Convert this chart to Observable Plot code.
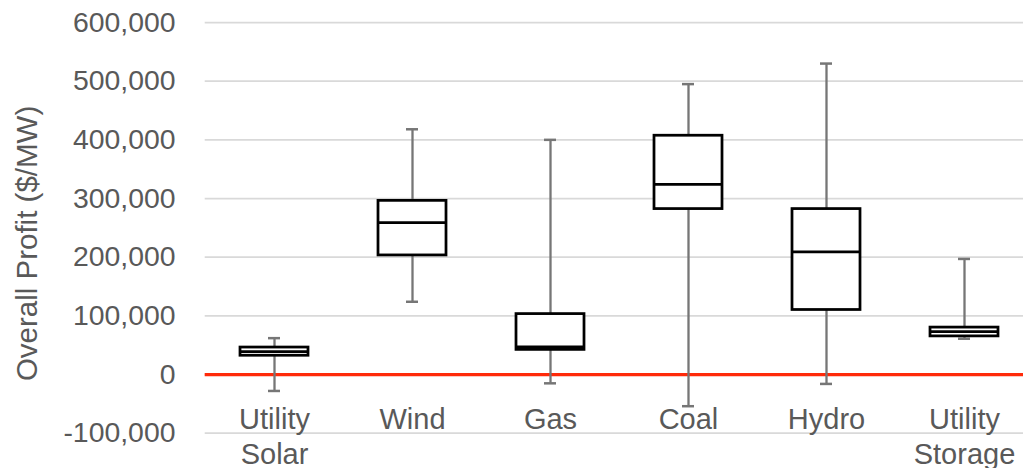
<!DOCTYPE html>
<html>
<head>
<meta charset="utf-8">
<script src="https://cdn.jsdelivr.net/npm/d3@7"></script>
<script src="https://cdn.jsdelivr.net/npm/@observablehq/plot@0.6"></script>
<style>
  html, body { margin: 0; padding: 0; background: #ffffff; }
</style>
</head>
<body>
<div id="chart"></div>
<script>
// Profit distribution per generation technology ($/MW)
const categories = ["Utility\nSolar", "Wind", "Gas", "Coal", "Hydro", "Utility\nStorage"];
const whiskerLow  = [-28000, 124000, -15000, -54000, -16000, 61000];
const quartile1   = [32000, 203000, 42000, 282000, 110000, 65000];
const medians     = [39000, 259000, 47000, 324000, 209000, 73000];
const quartile3   = [46000, 296000, 103000, 407000, 282000, 80000];
const whiskerHigh = [62000, 418000, 400000, 495000, 530000, 197000];

const yTicks = [-100000, 0, 100000, 200000, 300000, 400000, 500000, 600000];
const yLabel = "Overall Profit ($/MW)";

const rows = categories.map((cat, i) => ({
  cat,
  low: whiskerLow[i],
  q1: quartile1[i],
  median: medians[i],
  q3: quartile3[i],
  high: whiskerHigh[i]
}));

const fmt = d3.formatLocale({
  decimal: ".", thousands: ",", grouping: [3], currency: ["$", ""], minus: "-"
}).format(",");

const textColor = "#595959";

const chart = Plot.plot({
  width: 1023,
  height: 468,
  marginLeft: 204.7,
  marginRight: 0,
  marginTop: 22,
  marginBottom: 35.3,
  style: {
    background: "#ffffff",
    color: textColor,
    fontFamily: "'Liberation Sans', Arial, Helvetica, sans-serif"
  },
  x: { type: "band", domain: categories, range: [204.7, 1032.7], padding: 0 },
  y: { domain: [-100000, 600000] },
  marks: [
    // horizontal gridlines
    Plot.ruleY(yTicks, { stroke: "#d9d9d9", strokeWidth: 1.75 }),
    // break-even line
    Plot.ruleY([0], { stroke: "#ff2a0a", strokeWidth: 3.3 }),
    // whiskers
    Plot.ruleX(rows, { x: "cat", y1: "low", y2: "high", stroke: "#767676", strokeWidth: 2.3 }),
    Plot.tickY(rows, { x: "cat", y: "low", stroke: "#767676", strokeWidth: 2.5, inset: 63 }),
    Plot.tickY(rows, { x: "cat", y: "high", stroke: "#767676", strokeWidth: 2.5, inset: 63 }),
    // interquartile boxes
    Plot.barY(rows, {
      x: "cat", y1: "q1", y2: "q3", fill: "#ffffff", stroke: "#000000",
      strokeWidth: 2.75, insetLeft: 35, insetRight: 35
    }),
    // medians
    Plot.tickY(rows, { x: "cat", y: "median", stroke: "#000000", strokeWidth: 2.75, inset: 35 }),
    // axes
    Plot.axisY(yTicks, {
      tickSize: 0, tickPadding: 29.7, fontSize: 28.4, tickFormat: fmt, label: null
    }),
    Plot.axisX({
      anchor: "bottom", tickSize: 0, tickPadding: 0, fontSize: 29,
      lineHeight: 1.22, dy: -29.5, label: null
    }),
    Plot.text([yLabel], {
      frameAnchor: "left", rotate: -90, textAnchor: "middle", lineAnchor: "bottom",
      fontSize: 29.5, fill: textColor, dx: -168.2, dy: 15.6
    })
  ]
});

document.getElementById("chart").appendChild(chart);
</script>
</body>
</html>
